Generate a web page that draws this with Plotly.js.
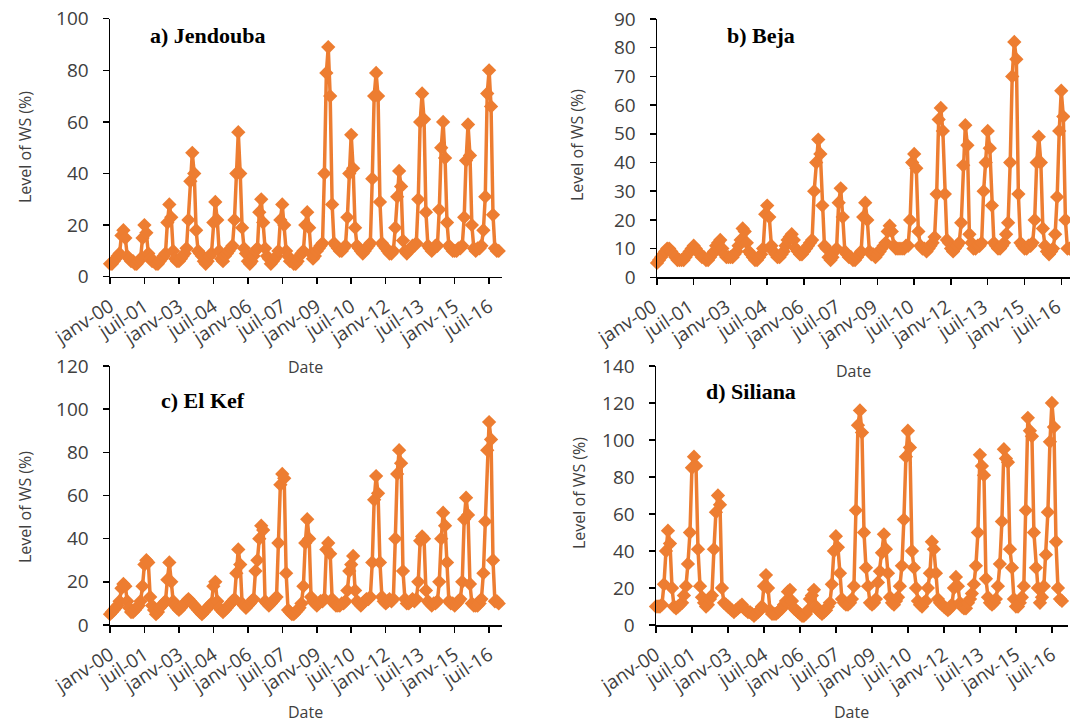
<!DOCTYPE html>
<html>
<head>
<meta charset="utf-8">
<script src="https://cdn.plot.ly/plotly-3.0.1.min.js"></script>
<style>
  html, body { margin: 0; padding: 0; background: #fff; overflow: hidden; }
  #chart { width: 1080px; height: 724px; }
</style>
</head>
<body>
<div id="chart"></div>
<script>
// Monthly level of water stress (%), January 2000 – December 2016, one row per year
const years = [2000,2001,2002,2003,2004,2005,2006,2007,2008,2009,2010,2011,2012,2013,2014,2015,2016];

const jendouba = [
  5,5,6,7,8,9,16,18,15,8,7,6,
  6,5,5,6,7,15,20,17,9,7,6,6,
  5,5,6,7,8,9,21,28,23,10,7,6,
  6,7,8,9,11,22,37,48,40,18,10,9,
  8,6,5,6,8,9,21,29,22,10,7,6,
  8,9,10,11,12,22,40,56,40,19,11,9,
  6,5,6,8,10,11,25,30,21,11,8,7,
  5,6,7,8,10,22,28,20,10,8,6,6,
  5,5,6,8,9,10,20,25,19,9,7,8,
  10,11,12,13,40,79,89,70,28,13,12,11,
  10,10,11,12,23,40,55,42,19,12,11,10,
  9,10,11,12,13,38,70,79,70,29,13,12,
  11,10,9,9,10,19,31,41,35,14,10,9,
  10,11,12,12,13,30,60,71,61,25,12,11,
  10,11,12,12,26,50,60,46,21,12,11,10,
  10,10,11,11,12,23,45,59,47,20,11,10,
  11,11,12,18,31,71,80,66,24,11,10,10
];

const beja = [
  5,6,7,8,9,10,10,9,8,7,6,6,
  6,6,7,8,9,10,11,10,9,8,7,7,
  6,6,7,8,9,11,12,13,10,8,7,7,
  7,7,8,9,11,13,17,16,12,9,8,7,
  6,6,7,8,10,22,25,21,11,9,8,7,
  7,8,9,11,13,14,15,13,10,9,8,8,
  9,10,11,12,13,30,40,48,43,25,11,10,
  7,6,7,9,10,26,31,21,9,8,7,7,
  6,6,7,8,9,21,26,20,9,8,8,7,
  8,9,10,11,12,16,18,16,11,10,10,10,
  10,10,11,11,20,40,43,38,16,11,10,10,
  9,10,11,12,14,29,55,59,51,29,13,12,
  10,9,10,11,12,19,39,53,46,15,12,10,
  10,11,11,12,30,40,51,45,25,12,11,10,
  10,11,12,15,19,40,70,82,76,29,12,11,
  10,10,11,11,12,20,40,49,40,17,11,9,
  8,9,10,15,28,51,65,56,20,10,10,10
];

const elKef = [
  5,6,7,8,9,11,17,19,18,11,8,6,
  6,7,8,9,11,18,28,30,29,13,9,7,
  5,6,8,9,10,11,21,29,20,11,9,8,
  7,8,9,10,11,12,11,10,9,8,7,6,
  5,6,7,8,9,10,18,20,11,8,7,6,
  7,8,9,10,11,12,24,35,28,10,9,8,
  9,10,11,12,25,30,40,46,44,11,10,9,
  10,11,12,13,38,65,70,68,24,7,6,5,
  5,6,7,8,10,18,38,49,40,13,11,10,
  9,10,11,11,12,35,38,33,12,10,9,9,
  9,10,10,11,16,25,28,32,16,11,10,9,
  10,11,12,12,13,29,58,69,61,29,13,11,
  10,11,12,11,12,40,70,81,75,25,12,10,
  10,11,12,11,12,20,39,41,40,16,11,10,
  9,10,10,11,20,40,52,46,29,11,10,10,
  9,10,11,12,20,49,59,51,19,10,9,9,
  9,10,12,24,48,81,94,86,30,11,11,10
];

const siliana = [
  10,10,10,11,22,40,51,44,20,10,9,10,
  11,12,16,21,33,50,85,91,86,41,21,15,
  12,10,11,14,16,41,61,70,65,20,12,11,
  10,9,8,7,8,9,10,11,9,8,7,7,
  6,5,6,7,8,10,21,27,20,8,6,6,
  6,7,8,9,11,13,18,19,13,9,8,7,
  6,5,5,6,8,14,16,19,10,8,7,6,
  7,8,10,12,22,40,48,42,28,14,12,11,
  11,12,14,21,62,108,116,104,50,31,21,12,
  11,12,14,23,29,39,49,41,28,15,12,11,
  13,15,21,32,57,91,105,96,40,31,20,13,
  11,10,12,13,20,28,45,41,28,14,12,11,
  10,9,8,9,11,20,26,21,12,10,9,9,
  12,14,17,22,32,50,92,86,81,25,15,12,
  11,12,14,21,33,56,95,90,88,41,31,14,
  10,10,12,15,21,62,112,105,102,50,31,20,
  12,15,21,38,61,99,120,107,45,20,14,13
];

const tickDates  = ["2000-01-01","2001-07-01","2003-01-01","2004-07-01","2006-01-01","2007-07-01",
                    "2009-01-01","2010-07-01","2012-01-01","2013-07-01","2015-01-01","2016-07-01"];
const tickLabels = ["janv-00","juil-01","janv-03","juil-04","janv-06","juil-07",
                    "janv-09","juil-10","janv-12","juil-13","janv-15","juil-16"];

const panelTitles = ["a) Jendouba","b) Beja","c) El Kef","d) Siliana"];
const yTitle = "Level of WS (%)";
const xTitle = "Date";

// month dates
const dates = [];
years.forEach(y => { for (let m = 1; m <= 12; m++) dates.push(y + "-" + String(m).padStart(2,"0") + "-01"); });

const W = 1080, H = 724;
const ORANGE = "#ED7D31";
const GREY = "#404040";
const px = v => v / W;
const py = v => 1 - v / H;

function trace(vals, n) {
  return {
    x: dates, y: vals, type: "scatter", mode: "lines+markers",
    xaxis: "x" + (n === 1 ? "" : n), yaxis: "y" + (n === 1 ? "" : n),
    line: {color: ORANGE, width: 3.5},
    marker: {symbol: "diamond", size: 11, color: ORANGE},
    cliponaxis: false, showlegend: false, hoverinfo: "x+y"
  };
}

function xax(dom, anchor, rangeEnd, shift) {
  return {
    domain: dom, anchor: anchor, type: "date",
    range: ["2000-01-01", rangeEnd],
    tickmode: "array", tickvals: tickDates, ticktext: tickLabels,
    tickangle: -33, ticks: "outside", ticklen: 6, tickwidth: 1.5, tickcolor: "#000",
    showline: true, linecolor: "#000", linewidth: 1.5,
    showgrid: false, zeroline: false,
    tickfont: {family: "Open Sans", size: 19, color: GREY},
    ticklabelstandoff: 4, ticklabelshift: shift || 0
  };
}
function yax(dom, anchor, max, dt) {
  return {
    domain: dom, anchor: anchor, range: [0, max], dtick: dt, tick0: 0,
    ticks: "outside", ticklen: 6, tickwidth: 1.5, tickcolor: "#000",
    showline: true, linecolor: "#000", linewidth: 1.5,
    showgrid: false, zeroline: false,
    tickfont: {family: "Open Sans", size: 19, color: GREY},
    ticklabelstandoff: 10
  };
}

const topDom = [py(276.7), py(18.7)];
const topDomB = [py(277.3), py(19)];
const botDom = [py(625), py(366)];

const layout = {
  width: W, height: H,
  margin: {l: 0, r: 0, t: 0, b: 0},
  paper_bgcolor: "#fff", plot_bgcolor: "rgba(0,0,0,0)",
  xaxis:  xax([px(110), px(502)], "y",  "2017-01-22"),
  yaxis:  yax(topDom, "x", 100, 20),
  xaxis2: xax([px(657), px(1075)], "y2", "2017-01-22", -4),
  yaxis2: yax(topDomB, "x2", 90, 10),
  xaxis3: xax([px(110), px(502)], "y3", "2017-01-22"),
  yaxis3: yax(botDom, "x3", 120, 20),
  xaxis4: xax([px(656), px(1068)], "y4", "2017-03-03"),
  yaxis4: yax(botDom, "x4", 140, 20),
  annotations: []
};

const titlePos = [[208, 36], [761, 36], [203, 400], [751, 392]];
const yTitlePos = [[25, 147], [577, 145], [25, 507], [579, 493]];
const xTitlePos = [[305, 367], [853, 371], [305, 712], [851, 712]];

panelTitles.forEach((t, i) => {
  layout.annotations.push({
    text: "<b>" + t + "</b>", xref: "paper", yref: "paper",
    x: px(titlePos[i][0]), y: py(titlePos[i][1]), xanchor: "center", yanchor: "middle",
    showarrow: false, font: {family: "Liberation Serif", size: 22, color: "#000"}
  });
  layout.annotations.push({
    text: yTitle, xref: "paper", yref: "paper", textangle: -90,
    x: px(yTitlePos[i][0]), y: py(yTitlePos[i][1]), xanchor: "center", yanchor: "middle",
    showarrow: false, font: {family: "Open Sans", size: 16, color: GREY}
  });
  layout.annotations.push({
    text: xTitle, xref: "paper", yref: "paper",
    x: px(xTitlePos[i][0]), y: py(xTitlePos[i][1]), xanchor: "center", yanchor: "middle",
    showarrow: false, font: {family: "Open Sans", size: 16, color: GREY}
  });
});

const data = [trace(jendouba, 1), trace(beja, 2), trace(elKef, 3), trace(siliana, 4)];
Plotly.newPlot("chart", data, layout, {displayModeBar: false, staticPlot: true});
</script>
</body>
</html>
